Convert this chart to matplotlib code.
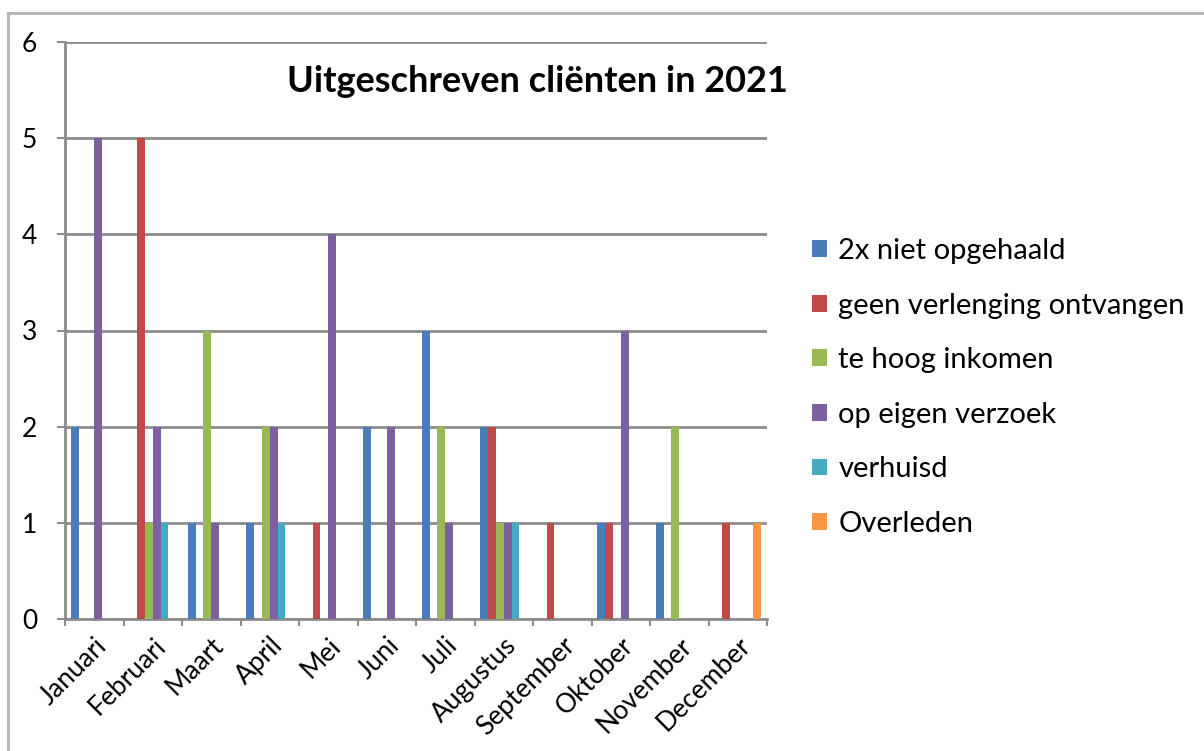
import matplotlib
matplotlib.use("Agg")
import matplotlib.pyplot as plt
from matplotlib.lines import Line2D
from matplotlib.patches import Patch
import numpy as np

plt.rcParams['font.family'] = ['Lato', 'DejaVu Sans']

months = ["Januari", "Februari", "Maart", "April", "Mei", "Juni", "Juli",
          "Augustus", "September", "Oktober", "November", "December"]
series_names = ["2x niet opgehaald", "geen verlenging ontvangen", "te hoog inkomen",
                "op eigen verzoek", "verhuisd", "Overleden"]
niet_opgehaald = [2, 0, 1, 1, 0, 2, 3, 2, 0, 1, 1, 0]
geen_verlenging = [0, 5, 0, 0, 1, 0, 0, 2, 1, 1, 0, 1]
te_hoog_inkomen = [0, 1, 3, 2, 0, 0, 2, 1, 0, 0, 2, 0]
eigen_verzoek = [5, 2, 1, 2, 4, 2, 1, 1, 0, 3, 0, 0]
verhuisd = [0, 1, 0, 1, 0, 0, 0, 1, 0, 0, 0, 0]
overleden = [0, 0, 0, 0, 0, 0, 0, 0, 0, 0, 0, 1]
series_values = [niet_opgehaald, geen_verlenging, te_hoog_inkomen,
                 eigen_verzoek, verhuisd, overleden]
colors = ["#4A7EBB", "#BE4B48", "#98B954", "#7D60A0", "#46AAC5", "#F79646"]
title = "Uitgeschreven cliënten in 2021"

fig = plt.figure(figsize=(12.04, 7.51), dpi=100)
ax = fig.add_axes([65/1204, 1-619/751, (767-65)/1204, (619-42)/751])

x = np.arange(len(months))
w = 1/7.5
n = len(series_values)
for i, (vals, c) in enumerate(zip(series_values, colors)):
    offs = (i - (n-1)/2) * w
    ax.bar(x + offs, vals, width=w, color=c, zorder=3, linewidth=0)

ax.set_xlim(-0.5, len(months)-0.5)
ax.set_ylim(0, 6)
ax.set_yticks(range(0, 7))
ax.yaxis.grid(True, color="#8c8c8c", linewidth=2, zorder=0)
ax.set_axisbelow(True)
for s in ["top", "right"]:
    ax.spines[s].set_visible(False)
for s in ["left", "bottom"]:
    ax.spines[s].set_color("#8c8c8c")
    ax.spines[s].set_linewidth(2)

ax.set_xticks(np.arange(-0.5, len(months)), labels=[])
ax.set_xticks(x, labels=months, minor=True)
ax.tick_params(axis='x', which='major', length=5, width=1.5, color="#8c8c8c")
ax.tick_params(axis='x', which='minor', length=0, pad=10, labelsize=19)
for lab in ax.get_xticklabels(minor=True):
    lab.set_rotation(45)
    lab.set_ha('right')
    lab.set_va('top')
    lab.set_rotation_mode('anchor')
ax.tick_params(axis='y', length=6, width=1.5, color="#8c8c8c", pad=14, labelsize=19)

fig.text(537/1204, 1-82/751, title, ha='center', va='center',
         fontsize=26, fontweight='bold')

handles = [Patch(facecolor=c, edgecolor='none') for c in colors]
leg = fig.legend(handles, series_names, loc='upper left',
                 bbox_to_anchor=(812/1204, 1-238/751), frameon=False,
                 fontsize=21, handlelength=0.5, handleheight=0.5,
                 handletextpad=0.4, labelspacing=0.98, borderaxespad=0,
                 borderpad=0)

# outer border
fig.add_artist(Line2D([8/1204, 8/1204], [0, 1-13/751], transform=fig.transFigure,
                      color="#b4b4b4", linewidth=2))
fig.add_artist(Line2D([8/1204, 1], [1-13/751, 1-13/751], transform=fig.transFigure,
                      color="#b4b4b4", linewidth=2))

fig.savefig("out.png", dpi=100)
